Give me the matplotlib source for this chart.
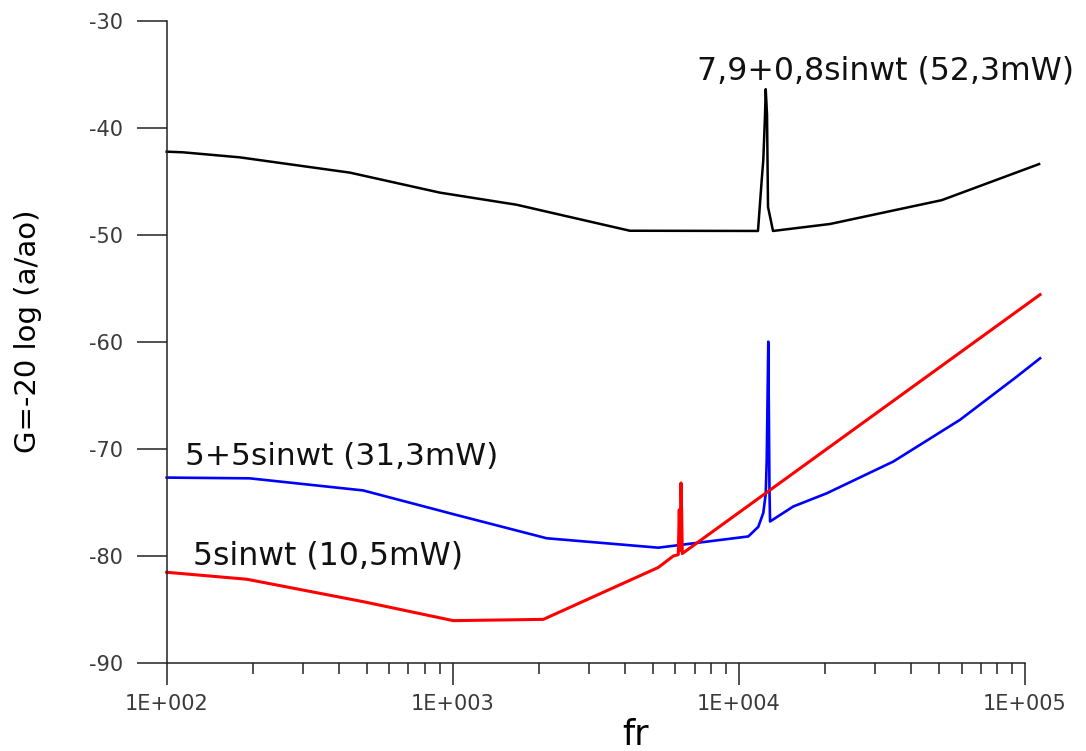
import matplotlib
matplotlib.use("Agg")
import matplotlib.pyplot as plt
from matplotlib.ticker import FixedLocator, FuncFormatter, LogLocator, NullFormatter
import numpy as np

# ---- data ----
black_f = [100, 114, 180, 437, 902, 1671, 4157, 11660, 12015, 12170, 12340, 12410,
           12540, 12640, 13160, 20810, 51200, 112000]
black_g = [-42.24, -42.3, -42.77, -44.2, -46.07, -47.2, -49.63, -49.65, -44.9, -43.0,
           -38.8, -36.4, -38.8, -47.4, -49.65, -49.0, -46.77, -43.4]

blue_f = [100, 195, 486, 1032, 2128, 5226, 6220, 10790, 11690, 12170, 12410, 12510,
          12670, 12790, 12850, 15490, 20270, 34650, 59270, 93540, 112900]
blue_g = [-72.7, -72.77, -73.9, -76.2, -78.37, -79.25, -79.0, -78.2, -77.3, -76.0,
          -74.2, -71.1, -60.0, -73.9, -76.8, -75.4, -74.17, -71.2, -67.3, -63.27, -61.55]

red_f = [100, 190.5, 487, 1004, 2072, 5226, 5898, 6140, 6188, 6223, 6275, 6310, 6340, 112900]
red_g = [-81.55, -82.2, -84.3, -86.07, -85.95, -81.1, -80.03, -79.9, -75.7, -79.5,
         -73.2, -76.0, -79.8, -55.6]

series_labels = ["7,9+0,8sinwt (52,3mW)", "5+5sinwt (31,3mW)", "5sinwt (10,5mW)"]
y_ticks = [-90, -80, -70, -60, -50, -40, -30]
x_major = [1e2, 1e3, 1e4, 1e5]

W, H = 1086, 751
fig = plt.figure(figsize=(W / 100, H / 100), dpi=100)
fig.patch.set_facecolor("white")

left_px, right_px = 166.7, 1045.0
top_px, bot_px = 20.7, 662.7
ax = fig.add_axes([left_px / W, 1 - bot_px / H, (right_px - left_px) / W, (bot_px - top_px) / H])

ax.plot(black_f, black_g, color="black", lw=1.8, solid_joinstyle="round", clip_on=False)
ax.plot(blue_f, blue_g, color="#0000ff", lw=1.9, solid_joinstyle="round", clip_on=False)
ax.plot(red_f, red_g, color="#ff0000", lw=2.2, solid_joinstyle="round", clip_on=False)

ax.set_xscale("log")
ax.set_xlim(100, 10 ** (5 + (right_px - 1025) / 286.1))
ax.set_ylim(-90, -30)

for s in ["top", "right"]:
    ax.spines[s].set_visible(False)
ax.spines["bottom"].set_bounds(100, 1e5)
for s in ["left", "bottom"]:
    ax.spines[s].set_color("#222222")
    ax.spines[s].set_linewidth(1.1)

ax.xaxis.set_major_locator(FixedLocator(x_major))
ax.xaxis.set_minor_locator(LogLocator(base=10, subs=np.arange(2, 10), numticks=20))
ax.xaxis.set_minor_formatter(NullFormatter())
ax.xaxis.set_major_formatter(FuncFormatter(lambda v, p: "1E+%03d" % int(round(np.log10(v)))))
ax.yaxis.set_major_locator(FixedLocator(y_ticks))
ax.yaxis.set_major_formatter(FuncFormatter(lambda v, p: "%d" % v))

ax.tick_params(axis="x", which="major", direction="out", length=15.8, width=1.1,
               color="#222222", labelsize=15, labelcolor="#3a3a3a", pad=7)
ax.tick_params(axis="x", which="minor", direction="out", length=7.9, width=1.1, color="#222222")
ax.tick_params(axis="y", which="major", direction="out", length=21.6, width=1.1,
               color="#222222", labelsize=15, labelcolor="#3a3a3a", pad=10)

ax.text(7140, -35.54, series_labels[0], fontsize=22.7, color="#111111", ha="left", va="baseline")
ax.text(115.8, -71.52, series_labels[1], fontsize=22.5, color="#111111", ha="left", va="baseline")
ax.text(123.3, -80.78, series_labels[2], fontsize=22.7, color="#111111", ha="left", va="baseline")

fig.text(636 / W, 1 - 735 / H, "fr", fontsize=25, ha="center", va="center", color="black")
fig.text(28 / W, 1 - 331 / H, "G=-20 log (a/ao)", fontsize=21, rotation=90,
         ha="center", va="center", color="black")

fig.savefig("out.png", dpi=100, facecolor="white")
